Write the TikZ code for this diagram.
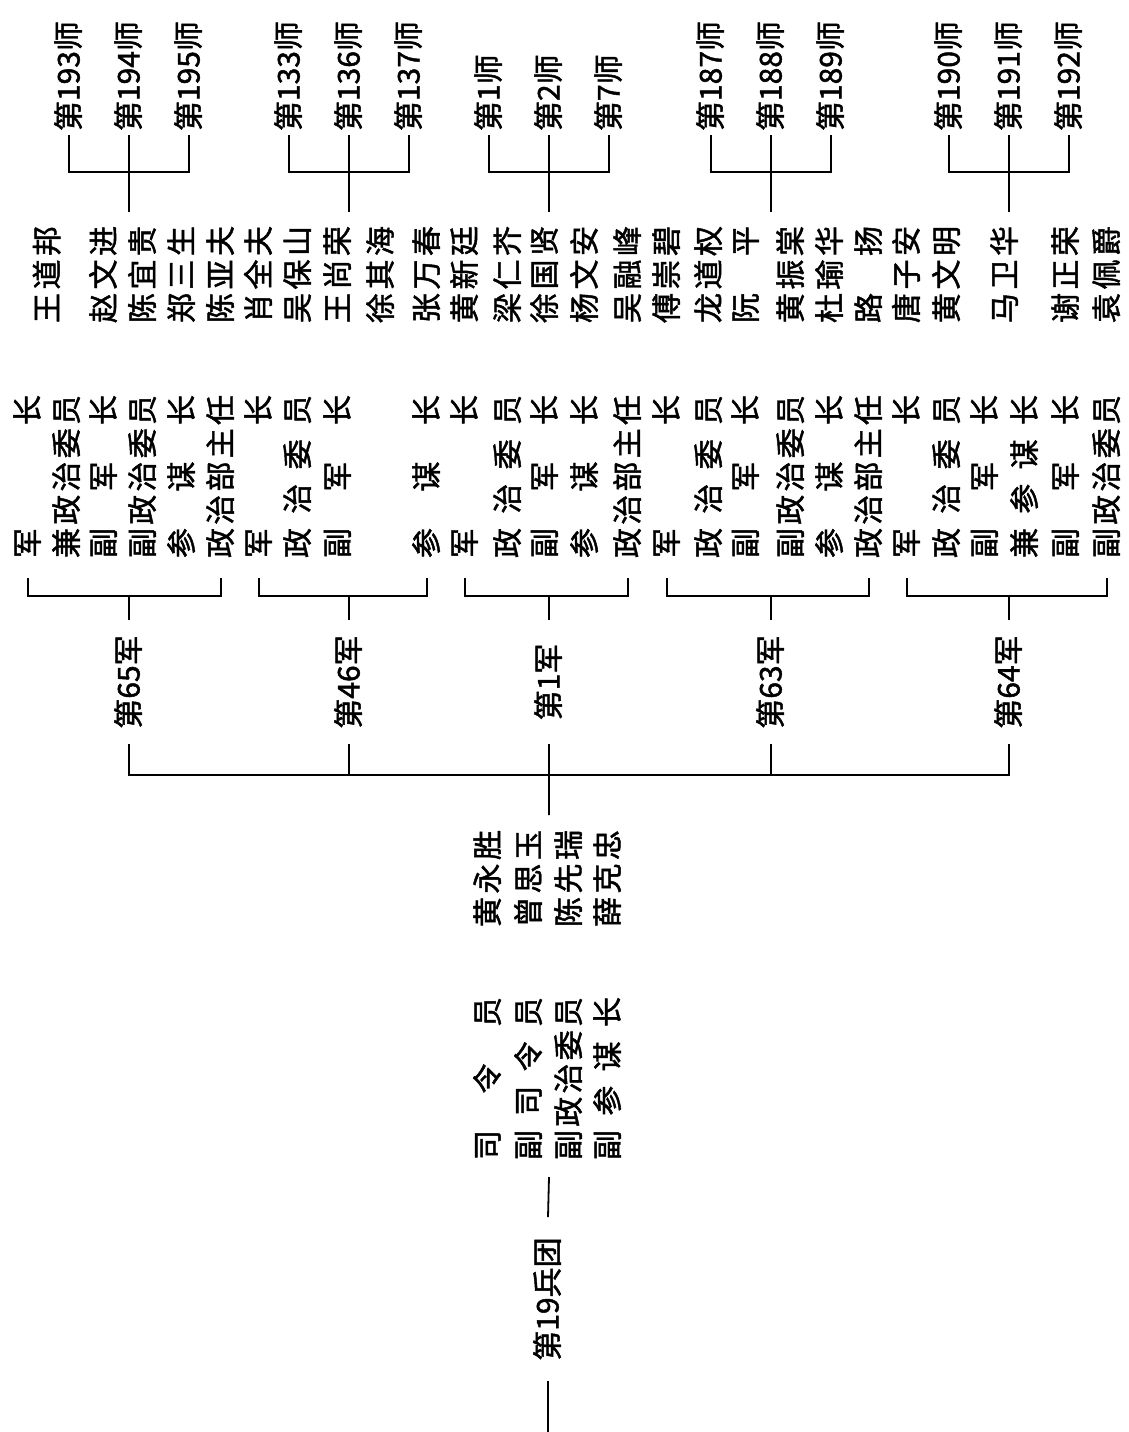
\documentclass[tikz,border=0pt]{standalone}
\usepackage{fontspec}
\usepackage{tikz}
\newfontfamily\cjk[FakeBold=1.5]{Noto Sans CJK SC}
\newcommand{\chartfont}{\cjk\fontsize{30pt}{30pt}\selectfont}
\newcommand{\tit}[1]{\makebox[163pt][s]{#1}}
\newcommand{\nm}[3]{\makebox[97pt][s]{#1\hfill#2\hfill#3}}

\begin{document}
\begin{tikzpicture}[x=1pt,y=-1pt]
	\tikzset{tline/.style={line width=1.8pt}, vtxt/.style={rotate=90, inner sep=0pt, outer sep=0pt, text height=25pt, text depth=4pt, font=\chartfont}, post/.style={vtxt, anchor=west}, unit/.style={vtxt, anchor=west, outer sep=4pt}, army/.style={vtxt, minimum width=124pt} }

	\path[use as bounding box, fill=white] (0,0) rectangle (1128,1432);

	\coordinate (dk) at (0,172);
	\coordinate (nk) at (0,212);
	\coordinate (tk) at (0,578);
	\coordinate (bk) at (0,596);
	\coordinate (bar) at (0,775);
	\coordinate (hq) at (549,815);
	\coordinate (cmd) at (549,1177);
	\coordinate (up) at (548,1432);

	% divisions
	\node[unit] (d193) at (69,135) {第193师};
	\node[unit] (d194) at (129,135) {第194师};
	\node[unit] (d195) at (189,135) {第195师};
	\node[unit] (d133) at (289,135) {第133师};
	\node[unit] (d136) at (349,135) {第136师};
	\node[unit] (d137) at (409,135) {第137师};
	\node[unit] (d1) at (489,135) {第1师};
	\node[unit] (d2) at (549,135) {第2师};
	\node[unit] (d7) at (609,135) {第7师};
	\node[unit] (d187) at (711,135) {第187师};
	\node[unit] (d188) at (771,135) {第188师};
	\node[unit] (d189) at (831,135) {第189师};
	\node[unit] (d190) at (949,135) {第190师};
	\node[unit] (d191) at (1009,135) {第191师};
	\node[unit] (d192) at (1069,135) {第192师};

	% names
	\foreach \x/\ka/\kb/\kc [count=\k] in {47.5/王/道/邦, 104/赵/文/进, 143/陈/宜/贵, 182/郑/三/生, 221/陈/亚/夫, 259/肖/全/夫, 298/吴/保/山, 338/王/尚/荣, 381/徐/其/海, 427/张/万/春, 465/黄/新/廷, 508/梁/仁/芥, 545/徐/国/贤, 585/杨/文/安, 628/吴/融/峰, 667/傅/崇/碧, 709/龙/道/权, 746/阮/{}/平, 791/黄/振/棠, 830/杜/瑜/华, 869/路/{}/扬, 907/唐/子/安, 947/黄/文/明, 1005/马/卫/华, 1066/谢/正/荣, 1107/袁/佩/爵}
		\node[post] (n\k) at (\x,323) {\nm{\ka}{\kb}{\kc}};

	% posts
	\foreach \i/\x/\txt in {1/28/{军\hfill 长}, 2/67/{兼\hfill 政\hfill 治\hfill 委\hfill 员}, 3/104/{副\hfill 军\hfill 长}, 4/143/{副\hfill 政\hfill 治\hfill 委\hfill 员}, 5/182/{参\hfill 谋\hfill 长}, 6/221/{政\hfill 治\hfill 部\hfill 主\hfill 任}, 7/259/{军\hfill 长}, 8/298/{政\hfill 治\hfill 委\hfill 员}, 9/338/{副\hfill 军\hfill 长}, 11/427/{参\hfill 谋\hfill 长}, 12/465/{军\hfill 长}, 13/508/{政\hfill 治\hfill 委\hfill 员}, 14/545/{副\hfill 军\hfill 长}, 15/585/{参\hfill 谋\hfill 长}, 16/628/{政\hfill 治\hfill 部\hfill 主\hfill 任}, 17/667/{军\hfill 长}, 18/709/{政\hfill 治\hfill 委\hfill 员}, 19/746/{副\hfill 军\hfill 长}, 20/791/{副\hfill 政\hfill 治\hfill 委\hfill 员}, 21/830/{参\hfill 谋\hfill 长}, 22/869/{政\hfill 治\hfill 部\hfill 主\hfill 任}, 23/907/{军\hfill 长}, 24/947/{政\hfill 治\hfill 委\hfill 员}, 25/985/{副\hfill 军\hfill 长}, 26/1025/{兼\hfill 参\hfill 谋\hfill 长}, 27/1066/{副\hfill 军\hfill 长}, 28/1107/{副\hfill 政\hfill 治\hfill 委\hfill 员}}
		\node[post] (r\i) at (\x,558) {\tit{\txt}};

	% armies
	\node[army] (a65) at (129,682) {第65军};
	\node[army] (a46) at (349,682) {第46军};
	\node[army] (a1) at (549,682) {第1军};
	\node[army] (a63) at (771,682) {第63军};
	\node[army] (a64) at (1009,682) {第64军};

	% army group command
	\node[post] (hn1) at (488,927) {\nm{黄}{永}{胜}};
	\node[post] (hn2) at (529,927) {\nm{曾}{思}{玉}};
	\node[post] (hn3) at (569,927) {\nm{陈}{先}{瑞}};
	\node[post] (hn4) at (608,927) {\nm{薛}{克}{忠}};
	\node[post] (hr1) at (488,1160) {\tit{司\hfill 令\hfill 员}};
	\node[post] (hr2) at (529,1160) {\tit{副\hfill 司\hfill 令\hfill 员}};
	\node[post] (hr3) at (569,1160) {\tit{副\hfill 政\hfill 治\hfill 委\hfill 员}};
	\node[post] (hr4) at (608,1160) {\tit{副\hfill 参\hfill 谋\hfill 长}};
	\node[vtxt, minimum width=164pt] (bt) at (548,1299) {第19兵团};

	\draw[tline]
		(d193.west) |- (d194.west |- dk) -| (d195.west)
		(d133.west) |- (d136.west |- dk) -| (d137.west)
		(d1.west) |- (d2.west |- dk) -| (d7.west)
		(d187.west) |- (d188.west |- dk) -| (d189.west)
		(d190.west) |- (d191.west |- dk) -| (d192.west)
		(d194.west) -- (d194 |- nk)
		(d136.west) -- (d136 |- nk)
		(d2.west) -- (d2 |- nk)
		(d188.west) -- (d188 |- nk)
		(d191.west) -- (d191 |- nk);

	\draw[tline]
		(r1.west |- tk) |- (a65 |- bk) -| (r6.west |- tk)
		(r7.west |- tk) |- (a46 |- bk) -| (r11.west |- tk)
		(r12.west |- tk) |- (a1 |- bk) -| (r16.west |- tk)
		(r17.west |- tk) |- (a63 |- bk) -| (r22.west |- tk)
		(r23.west |- tk) |- (a64 |- bk) -| (r28.west |- tk)
		(a65 |- bk) -- (a65.east)
		(a46 |- bk) -- (a46.east)
		(a1 |- bk) -- (a1.east)
		(a63 |- bk) -- (a63.east)
		(a64 |- bk) -- (a64.east);

	\draw[tline]
		(a65.west) -- (a65 |- bar) -- (a64 |- bar) -- (a64.west)
		(a46.west) -- (a46 |- bar)
		(a63.west) -- (a63 |- bar)
		(a1.west) -- (hq)
		(cmd) -- (bt.east)
		(bt.west) -- (up);

\end{tikzpicture}
\end{document}
